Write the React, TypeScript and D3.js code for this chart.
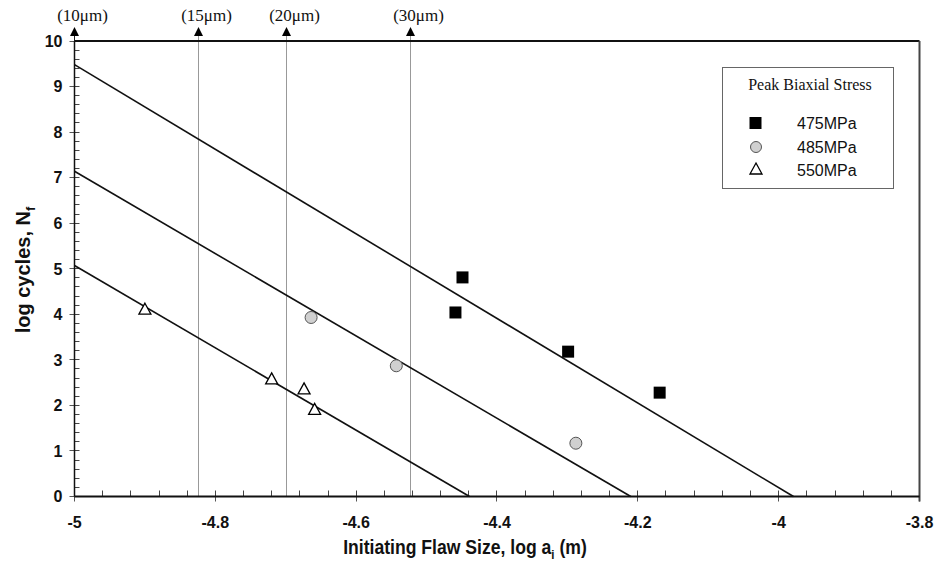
import React, { useEffect, useRef } from "react";
import * as d3 from "d3";

// log a_i (m), log N_f
const sq475X = [-4.449, -4.459, -4.299, -4.169];
const sq475Y = [4.81, 4.04, 3.18, 2.28];
const ci485X = [-4.664, -4.543, -4.288];
const ci485Y = [3.93, 2.87, 1.17];
const tr550X = [-4.9, -4.72, -4.674, -4.659];
const tr550Y = [4.09, 2.56, 2.34, 1.89];

// fitted lines: start at x=-5, end at y=0
const fitStartY = [9.48, 7.14, 5.07];
const fitEndX = [-3.979, -4.21, -4.439];

const flawSizes = [10, 15, 20, 30]; // micrometres
const xTicks = [-5, -4.8, -4.6, -4.4, -4.2, -4, -3.8];
const yTicks = [0, 1, 2, 3, 4, 5, 6, 7, 8, 9, 10];
const legendLabels = ["475MPa", "485MPa", "550MPa"];

const App = () => {
  const ref = useRef(null);

  useEffect(() => {
    const W = 936;
    const H = 565;
    const m = { left: 74.5, right: 936 - 919.5, top: 41, bottom: 565 - 496.5 };

    d3.select(ref.current).selectAll("*").remove();

    const svg = d3
      .select(ref.current)
      .append("svg")
      .attr("width", W)
      .attr("height", H)
      .style("display", "block")
      .style("position", "absolute")
      .style("left", 0)
      .style("top", 0)
      .style("background", "#fff");

    const x = d3.scaleLinear().domain([-5, -3.8]).range([m.left, W - m.right]);
    const y = d3.scaleLinear().domain([0, 10]).range([H - m.bottom, m.top]);
    const crisp = (v) => Math.round(v - 0.5) + 0.5;

    const sans = "Arial, 'Liberation Sans', sans-serif";
    const serif = "'Times New Roman', 'Liberation Serif', serif";

    // minor ticks (inward)
    const xMinor = d3.range(0, 31).map((i) => -5 + i * 0.04);
    svg
      .append("g")
      .selectAll("line")
      .data(xMinor)
      .join("line")
      .attr("x1", (d) => crisp(x(d)))
      .attr("x2", (d) => crisp(x(d)))
      .attr("y1", y(0))
      .attr("y2", y(0) - 6)
      .attr("stroke", "#444")
      .attr("stroke-width", 1);

    const yMinor = d3.range(0, 51).map((i) => i * 0.2);
    svg
      .append("g")
      .selectAll("line")
      .data(yMinor)
      .join("line")
      .attr("x1", x(-5))
      .attr("x2", x(-5) + 5)
      .attr("y1", (d) => crisp(y(d)))
      .attr("y2", (d) => crisp(y(d)))
      .attr("stroke", "#444")
      .attr("stroke-width", 1);

    // major ticks (outward)
    svg
      .append("g")
      .selectAll("line")
      .data(xTicks)
      .join("line")
      .attr("x1", (d) => crisp(x(d)))
      .attr("x2", (d) => crisp(x(d)))
      .attr("y1", y(0))
      .attr("y2", y(0) + 5)
      .attr("stroke", "#555")
      .attr("stroke-width", 1);

    svg
      .append("g")
      .selectAll("line")
      .data(yTicks)
      .join("line")
      .attr("x1", x(-5) - 5)
      .attr("x2", x(-5))
      .attr("y1", (d) => crisp(y(d)))
      .attr("y2", (d) => crisp(y(d)))
      .attr("stroke", "#555")
      .attr("stroke-width", 1);

    // flaw size reference lines
    const refG = svg.append("g");
    flawSizes.forEach((s) => {
      const xv = Math.log10(s * 1e-6);
      const px = crisp(x(xv));
      if (s !== 10) {
        refG
          .append("line")
          .attr("x1", px)
          .attr("x2", px)
          .attr("y1", y(0))
          .attr("y2", 33)
          .attr("stroke", "#333")
          .attr("stroke-width", 1)
          .attr("stroke-dasharray", "1,1");
      } else {
        refG
          .append("line")
          .attr("x1", px)
          .attr("x2", px)
          .attr("y1", y(10))
          .attr("y2", 33)
          .attr("stroke", "#222")
          .attr("stroke-width", 1);
      }
      refG
        .append("path")
        .attr("d", `M${px},27 L${px - 4.5},36 L${px + 4.5},36 Z`)
        .attr("fill", "#000");
      refG
        .append("text")
        .attr("x", px + 8)
        .attr("y", 21)
        .attr("text-anchor", "middle")
        .attr("font-family", serif)
        .attr("font-size", 17)
        .attr("fill", "#111")
        .text(`(${s}\u03bcm)`);
    });

    // frame
    svg
      .append("line")
      .attr("x1", x(-5))
      .attr("x2", x(-3.8))
      .attr("y1", y(10))
      .attr("y2", y(10))
      .attr("stroke", "#111")
      .attr("stroke-width", 2);
    svg
      .append("line")
      .attr("x1", x(-3.8))
      .attr("x2", x(-3.8))
      .attr("y1", y(10))
      .attr("y2", y(0) + 5)
      .attr("stroke", "#444")
      .attr("stroke-width", 2);
    svg
      .append("line")
      .attr("x1", x(-5))
      .attr("x2", x(-5))
      .attr("y1", y(10))
      .attr("y2", y(0))
      .attr("stroke", "#111")
      .attr("stroke-width", 1.5);
    svg
      .append("line")
      .attr("x1", x(-5))
      .attr("x2", x(-3.8))
      .attr("y1", y(0))
      .attr("y2", y(0))
      .attr("stroke", "#111")
      .attr("stroke-width", 2);

    // fit lines
    const line = d3
      .line()
      .x((d) => x(d[0]))
      .y((d) => y(d[1]));
    svg
      .append("g")
      .selectAll("path")
      .data(fitStartY.map((v, i) => [[-5, v], [fitEndX[i], 0]]))
      .join("path")
      .attr("d", line)
      .attr("fill", "none")
      .attr("stroke", "#111")
      .attr("stroke-width", 1.6);

    // tick labels
    svg
      .append("g")
      .selectAll("text")
      .data(yTicks)
      .join("text")
      .attr("x", x(-5) - 12)
      .attr("y", (d) => y(d))
      .attr("dy", "0.36em")
      .attr("text-anchor", "end")
      .attr("font-family", sans)
      .attr("font-weight", "bold")
      .attr("font-size", 16)
      .attr("fill", "#111")
      .text((d) => d);

    svg
      .append("g")
      .selectAll("text")
      .data(xTicks)
      .join("text")
      .attr("x", (d) => x(d))
      .attr("y", 528)
      .attr("text-anchor", "middle")
      .attr("font-family", sans)
      .attr("font-weight", "bold")
      .attr("font-size", 16)
      .attr("fill", "#111")
      .text((d) => d);

    // axis titles
    const xt = svg
      .append("text")
      .attr("x", 465)
      .attr("y", 554)
      .attr("text-anchor", "middle")
      .attr("font-family", sans)
      .attr("font-weight", "bold")
      .attr("font-size", 20)
      .attr("fill", "#111")
      .attr("transform", "translate(465,0) scale(0.88,1) translate(-465,0)");
    xt.append("tspan").text("Initiating Flaw Size, log a");
    xt.append("tspan").attr("font-size", 13).attr("dy", 5).text("i");
    xt.append("tspan").attr("dy", -5).text(" (m)");

    const yt = svg
      .append("text")
      .attr("transform", "translate(30,270) rotate(-90)")
      .attr("text-anchor", "middle")
      .attr("font-family", sans)
      .attr("font-weight", "bold")
      .attr("font-size", 20)
      .attr("fill", "#111");
    yt.append("tspan").text("log cycles, N");
    yt.append("tspan").attr("font-size", 13).attr("dy", 5).text("f");

    // markers
    const sqSize = 12;
    const sqPath = (cx, cy) =>
      `M${cx - sqSize / 2},${cy - sqSize / 2}h${sqSize}v${sqSize}h${-sqSize}Z`;
    const triPath = (cx, cy) => `M${cx},${cy - 7} L${cx + 6},${cy + 4} L${cx - 6},${cy + 4} Z`;

    svg
      .append("g")
      .selectAll("path")
      .data(sq475X.map((v, i) => [v, sq475Y[i]]))
      .join("path")
      .attr("d", (d) => sqPath(x(d[0]), y(d[1])))
      .attr("fill", "#000");

    svg
      .append("g")
      .selectAll("circle")
      .data(ci485X.map((v, i) => [v, ci485Y[i]]))
      .join("circle")
      .attr("cx", (d) => x(d[0]))
      .attr("cy", (d) => y(d[1]))
      .attr("r", 6)
      .attr("fill", "#d0d0d0")
      .attr("stroke", "#555")
      .attr("stroke-width", 1);

    svg
      .append("g")
      .selectAll("path")
      .data(tr550X.map((v, i) => [v, tr550Y[i]]))
      .join("path")
      .attr("d", (d) => triPath(x(d[0]), y(d[1])))
      .attr("fill", "#fff")
      .attr("stroke", "#000")
      .attr("stroke-width", 1.3);

    // legend
    const lg = svg.append("g");
    lg.append("rect")
      .attr("x", 722.5)
      .attr("y", 67.5)
      .attr("width", 171)
      .attr("height", 121)
      .attr("fill", "#fff")
      .attr("stroke", "#666")
      .attr("stroke-width", 1);
    lg.append("text")
      .attr("x", 810)
      .attr("y", 90)
      .attr("text-anchor", "middle")
      .attr("font-family", serif)
      .attr("font-size", 16)
      .attr("fill", "#111")
      .text("Peak Biaxial Stress");
    const rowY = [123, 147, 170];
    lg.append("path").attr("d", sqPath(755.5, rowY[0])).attr("fill", "#000");
    lg.append("circle")
      .attr("cx", 756)
      .attr("cy", rowY[1])
      .attr("r", 5.5)
      .attr("fill", "#d0d0d0")
      .attr("stroke", "#555");
    lg.append("path")
      .attr("d", triPath(756, rowY[2]))
      .attr("fill", "#fff")
      .attr("stroke", "#000")
      .attr("stroke-width", 1.3);
    lg.selectAll("text.item")
      .data(legendLabels)
      .join("text")
      .attr("class", "item")
      .attr("x", 797)
      .attr("y", (d, i) => rowY[i])
      .attr("dy", "0.36em")
      .attr("font-family", sans)
      .attr("font-size", 16)
      .attr("fill", "#111")
      .text((d) => d);
  }, []);

  return <div ref={ref} />;
};

export default App;
